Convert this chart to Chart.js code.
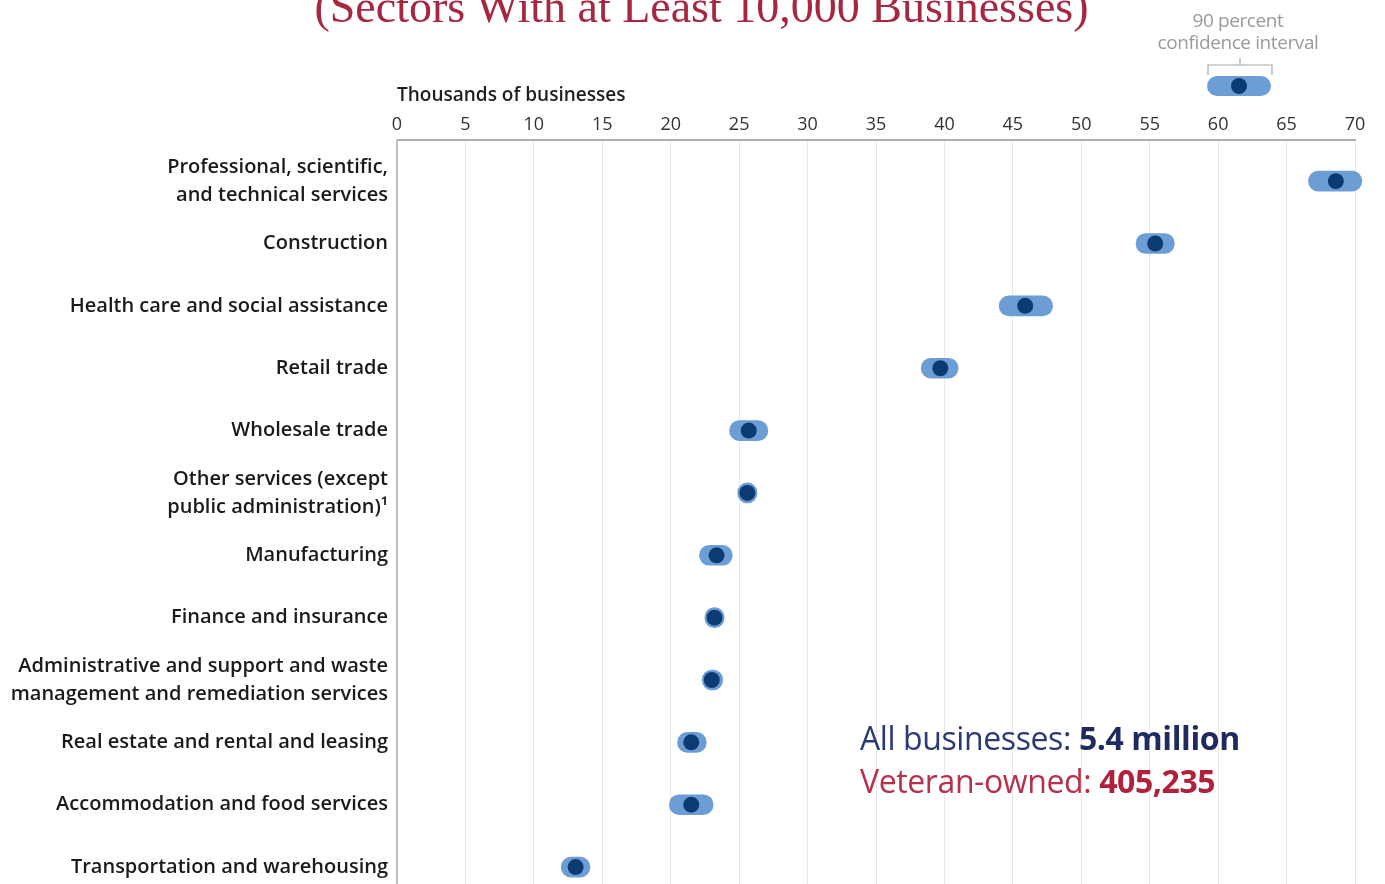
<!DOCTYPE html>
<html>
<head>
<meta charset="utf-8">
<script src="https://cdn.jsdelivr.net/npm/chart.js@4.4.1/dist/chart.umd.min.js"></script>
<style>
  html, body { margin: 0; padding: 0; background: #fff; overflow: hidden; }
  #page { position: relative; width: 1385px; height: 884px; overflow: hidden; }
  #chartVet { position: absolute; left: 0; top: 0; width: 1385px; height: 905px; }
  .title {
    position: absolute; top: -16px; left: 0; width: 1403px; text-align: center;
    font-family: "Liberation Serif", serif; font-size: 46px; line-height: 46px;
    color: #a6273f; white-space: nowrap;
  }
  .ci-note {
    position: absolute; left: 1128px; top: 9px; width: 220px; text-align: center;
    font-family: "Open Sans", sans-serif; font-size: 19px; line-height: 22px;
    color: #9a9a9a; letter-spacing: -0.4px;
  }
  .totals {
    position: absolute; left: 860px; top: 716px;
    font-family: "Open Sans", sans-serif; font-size: 32px; line-height: 43px;
    font-weight: 500; letter-spacing: -0.4px; white-space: nowrap;
  }
  .totals .all { color: #2b3a75; }
  .totals .vet { color: #b8304a; }
  .totals b { font-weight: 700; }
</style>
</head>
<body>
<div id="page">
  <canvas id="chartVet" width="1385" height="905"></canvas>
  <div class="title">(Sectors With at Least 10,000 Businesses)</div>
  <div class="ci-note">90 percent<br>confidence interval</div>
  <div class="totals">
    <div class="all">All businesses: <b style="color:#1f2b5e">5.4 million</b></div>
    <div class="vet">Veteran-owned: <b style="color:#b0223b">405,235</b></div>
  </div>
</div>
<script>
const sectors = [
  ["Professional, scientific,", "and technical services"],
  "Construction",
  "Health care and social assistance",
  "Retail trade",
  "Wholesale trade",
  ["Other services (except", "public administration)\u00b9"],
  "Manufacturing",
  "Finance and insurance",
  ["Administrative and support and waste", "management and remediation services"],
  "Real estate and rental and leasing",
  "Accommodation and food services",
  "Transportation and warehousing"
];

// thousands of veteran-owned businesses
const estimates = [68.6, 55.4, 45.9, 39.7, 25.7, 25.6, 23.35, 23.2, 23.0, 21.5, 21.5, 13.05];
const ciLow     = [66.6, 54.0, 44.0, 38.3, 24.3, 24.9, 22.1, 22.5, 22.3, 20.5, 19.9, 12.0];
const ciHigh    = [70.5, 56.8, 47.9, 41.0, 27.1, 26.3, 24.5, 23.9, 23.8, 22.6, 23.1, 14.1];

const xMin = 0;
const xMax = 70;
const xStep = 5;

const pillColor = "#6c9dd4";
const dotColor = "#0c3b74";
const labelFont = "'Open Sans', sans-serif";

// small key above the plot: sample interval with bracket
const ciKey = {
  id: "ciKey",
  afterDraw(chart) {
    const ctx = chart.ctx;
    ctx.save();
    ctx.strokeStyle = "#a8a8a8";
    ctx.lineWidth = 1.2;
    ctx.beginPath();
    ctx.moveTo(1208, 75);
    ctx.lineTo(1208, 65);
    ctx.lineTo(1272, 65);
    ctx.lineTo(1272, 75);
    ctx.moveTo(1240, 65);
    ctx.lineTo(1240, 58);
    ctx.stroke();

    ctx.fillStyle = pillColor;
    ctx.beginPath();
    ctx.roundRect(1207, 76, 64, 20, 10);
    ctx.fill();
    ctx.fillStyle = dotColor;
    ctx.beginPath();
    ctx.arc(1239, 86, 8, 0, Math.PI * 2);
    ctx.fill();
    ctx.restore();
  }
};

const ctx = document.getElementById("chartVet").getContext("2d");

const chart = new Chart(ctx, {
  type: "bar",
  data: {
    datasets: [
      {
        type: "scatter",
        label: "Estimate",
        data: estimates.map((v, i) => ({ x: v, y: i })),
        backgroundColor: dotColor,
        borderWidth: 0,
        pointRadius: 8,
        pointHoverRadius: 8,
        clip: false,
        order: 0
      },
      {
        type: "bar",
        label: "90 percent confidence interval",
        indexAxis: "y",
        data: ciLow.map((lo, i) => ({ x: [lo, ciHigh[i]], y: i })),
        backgroundColor: pillColor,
        borderWidth: 0,
        borderRadius: 10,
        borderSkipped: false,
        barThickness: 20,
        clip: false,
        order: 1
      }
    ]
  },
  options: {
    responsive: false,
    maintainAspectRatio: false,
    animation: false,
    layout: { padding: { left: 0, right: 30, top: 0, bottom: 0 } },
    plugins: {
      legend: { display: false },
      tooltip: { enabled: false }
    },
    scales: {
      x: {
        type: "linear",
        position: "top",
        offset: false,
        min: xMin,
        max: xMax,
        ticks: {
          stepSize: xStep,
          padding: 4,
          color: "#333333",
          font: { size: 18, family: labelFont }
        },
        grid: {
          color: "#e8e8e8",
          lineWidth: 1,
          offset: false,
          drawTicks: false
        },
        border: { display: true, color: "#b0b0b0", width: 2 },
        title: {
          display: true,
          text: "Thousands of businesses",
          align: "start",
          color: "#1e1e1e",
          padding: { top: 84, bottom: 0 },
          font: { size: 19, weight: "600", family: labelFont }
        },
        afterFit(scale) { scale.height = 140; }
      },
      y: {
        type: "linear",
        reverse: true,
        offset: false,
        min: -0.66,
        max: 11.48,
        afterBuildTicks(scale) {
          scale.ticks = sectors.map((_, i) => ({ value: i }));
        },
        ticks: {
          autoSkip: false,
          padding: 1,
          color: "#1a1a1a",
          font: { size: 20, weight: "600", family: labelFont, lineHeight: 1.4 },
          callback: (value) => sectors[value]
        },
        grid: { display: false, offset: false },
        border: { display: true, color: "#c0c0c0", width: 2 },
        afterFit(scale) {
          scale.width = 397;
          scale.paddingTop = 0;
          scale.paddingBottom = 0;
        }
      }
    }
  },
  plugins: [ciKey]
});
</script>
</body>
</html>
